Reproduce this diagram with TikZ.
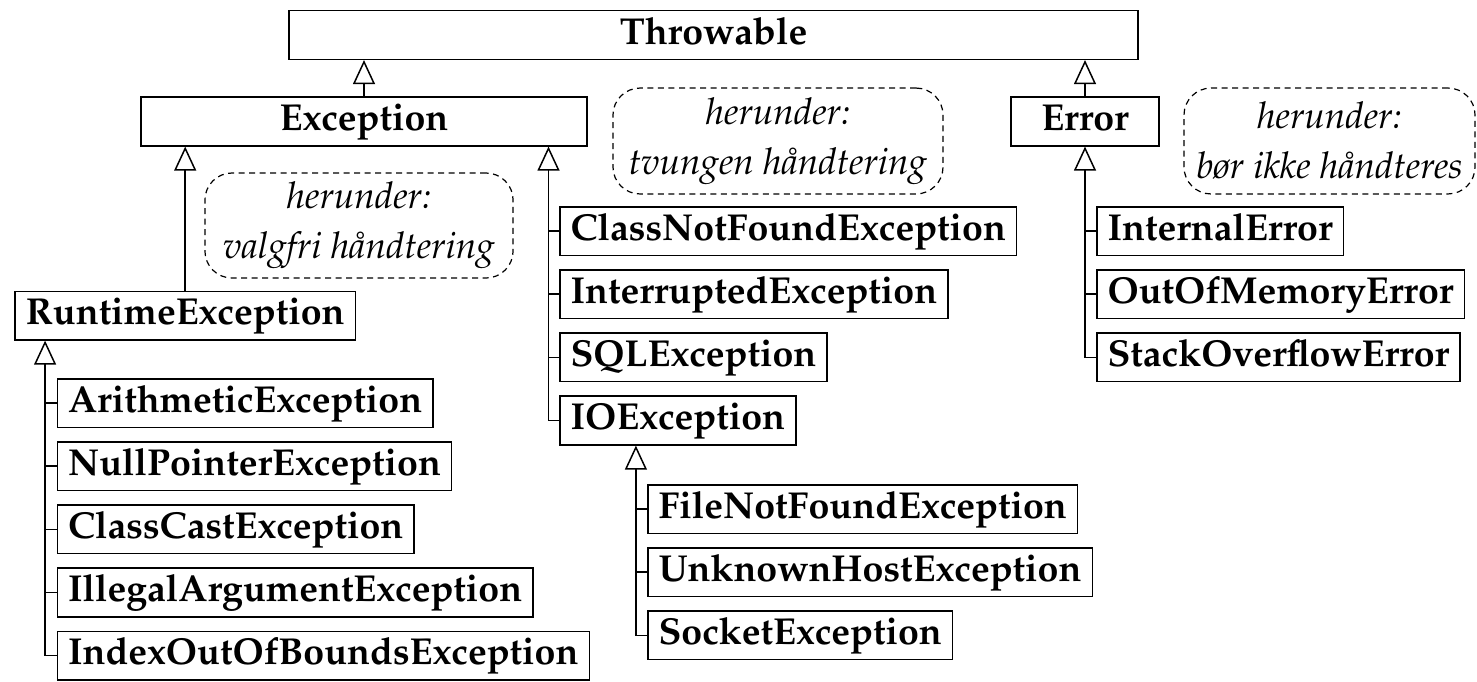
\documentclass[tikz,border=0pt]{standalone}
\usepackage[T1]{fontenc}
\usepackage{mathpazo}
\usetikzlibrary{arrows.meta,positioning}

\begin{document}
\begin{tikzpicture}
    [x=0.3333pt, y=-0.3333pt,
    cls/.style={
      rectangle,
      draw=black, line width=.5pt,
      minimum height=16.2pt,
      inner xsep=3.6pt, inner ysep=0pt,
      text height=.8em, text depth=.2em,
      font=\fontsize{12.5}{14}\selectfont\bfseries
      },
    sub/.style={cls, below=4.35pt of #1.south west, anchor=north west},
    note/.style={
      rectangle, rounded corners=9pt,
      draw=black, line width=.4pt, dash pattern=on 2pt off 1.5pt,
      align=center, inner sep=0pt,
      font=\fontsize{12.3}{16.7}\selectfont\itshape
      },
    isa/.style={line width=.5pt, -{Triangle[open, length=8pt, width=7.3pt]}},
    branch/.style={line width=.5pt}]

    \useasboundingbox (0,0) rectangle (1477,681);

    % top of the hierarchy
    \node (thr) [cls, minimum width=283pt  ] at (713.5,35)  {Throwable};
    \node (ex)  [cls, minimum width=148.7pt] at (364,121.5) {Exception};
    \node (err) [cls, minimum width=49.3pt ] at (1085,121.5) {Error};

    % notes
    \node (valg)  [note, minimum width=102.7pt, minimum height=35pt  ] at (359,225.5) {herunder:\\valgfri håndtering};
    \node (tvung) [note, minimum width=110pt,   minimum height=35.3pt] at (778,141)   {herunder:\\tvungen håndtering};
    \node (ikke)  [note, minimum width=97pt,    minimum height=35.3pt] at (1329.5,141) {herunder:\\bør ikke håndteres};

    % unchecked
    \node (rte) [cls, anchor=north west] at (14.3,290.5) {RuntimeException};
    \node (ari) [cls, anchor=north west] at (56.5,378) {ArithmeticException};
    \node (nul) [sub=ari] {NullPointerException};
    \node (cce) [sub=nul] {ClassCastException};
    \node (ill) [sub=cce] {IllegalArgumentException};
    \node (iob) [sub=ill] {IndexOutOfBoundsException};

    % checked
    \node (cnf) [cls, anchor=north west] at (559,206) {ClassNotFoundException};
    \node (int) [sub=cnf] {InterruptedException};
    \node (sql) [sub=int] {SQLException};
    \node (ioe) [sub=sql] {IOException};
    \node (fnf) [cls, anchor=north west] at (647,484) {FileNotFoundException};
    \node (unk) [sub=fnf] {UnknownHostException};
    \node (soc) [sub=unk] {SocketException};

    % errors
    \node (ine) [cls, anchor=north west] at (1096,206) {InternalError};
    \node (oom) [sub=ine] {OutOfMemoryError};
    \node (soe) [sub=oom] {StackOverflowError};

    % inheritance
    \draw[isa] (ex.north) -- (ex.north |- thr.south);
    \draw[isa] (err.north) -- (err.north |- thr.south);
    \draw[isa] (rte.north) -- (rte.north |- ex.south);

    \coordinate (rtrunk) at ([xshift=-3.8pt]ari.west |- rte.south);
    \draw[isa] (iob.west) -| (rtrunk);
    \foreach \c in {ari,nul,cce,ill} \draw[branch] (\c.west) -- (\c.west -| rtrunk);

    \coordinate (etrunk) at ([xshift=-3.5pt]cnf.west |- ex.south);
    \draw[isa] (ioe.west) -| (etrunk);
    \foreach \c in {cnf,int,sql} \draw[branch] (\c.west) -- (\c.west -| etrunk);

    \coordinate (iotrunk) at ([xshift=-3.7pt]fnf.west |- ioe.south);
    \draw[isa] (soc.west) -| (iotrunk);
    \foreach \c in {fnf,unk} \draw[branch] (\c.west) -- (\c.west -| iotrunk);

    \draw[isa] (soe.west) -| (err.south);
    \foreach \c in {ine,oom} \draw[branch] (\c.west) -- (\c.west -| err.south);

  \end{tikzpicture}
\end{document}
